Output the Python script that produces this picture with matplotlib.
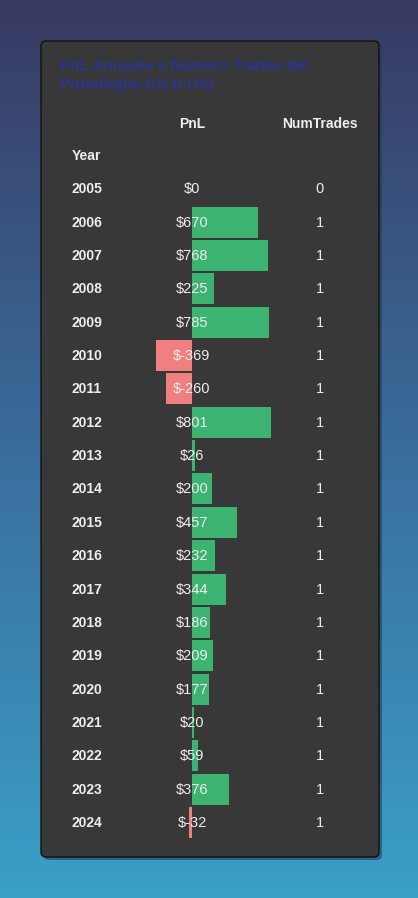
import numpy as np
import matplotlib
matplotlib.use("Agg")
import matplotlib.pyplot as plt
from matplotlib.patches import FancyBboxPatch
from matplotlib.colors import LinearSegmentedColormap

years = [2005, 2006, 2007, 2008, 2009, 2010, 2011, 2012, 2013, 2014,
         2015, 2016, 2017, 2018, 2019, 2020, 2021, 2022, 2023, 2024]
pnl = [0, 670, 768, 225, 785, -369, -260, 801, 26, 200,
       457, 232, 344, 186, 209, 177, 20, 59, 376, -32]
num_trades = [0, 1, 1, 1, 1, 1, 1, 1, 1, 1,
              1, 1, 1, 1, 1, 1, 1, 1, 1, 1]
title = "PnL Annuale e Numero Trades del\nPortafoglio (GLD.US)"
col_headers = ["PnL", "NumTrades"]
index_name = "Year"

W, H = 418, 898
plt.rcParams['font.family'] = ['Liberation Sans', 'DejaVu Sans']
fig = plt.figure(figsize=(W / 100, H / 100), dpi=100)

# background gradient
bg = fig.add_axes([0, 0, 1, 1])
bg.axis('off')
cmap = LinearSegmentedColormap.from_list('bg', ['#383a62', '#3a6d9c', '#3aa0c8'])
grad = np.linspace(0, 1, 256).reshape(-1, 1)
bg.imshow(grad, aspect='auto', cmap=cmap, extent=[0, 1, 0, 1], origin='upper')
bg.set_xlim(0, 1)
bg.set_ylim(0, 1)

def fx(px):
    return px / W

def fy(py):
    return 1 - py / H

# card shadow and card
shadow = FancyBboxPatch((fx(44), fy(860)), fx(379 - 41), (858 - 41) / H,
                        boxstyle="round,pad=0,rounding_size=0.012",
                        transform=bg.transAxes, facecolor='#1f3f55', edgecolor='none',
                        alpha=0.6, zorder=1, mutation_aspect=W / H)
bg.add_patch(shadow)
card = FancyBboxPatch((fx(41), fy(857)), fx(379 - 41), (857 - 41) / H,
                      boxstyle="round,pad=0,rounding_size=0.012",
                      transform=bg.transAxes, facecolor='#383838', edgecolor='#111111',
                      linewidth=1.0, zorder=2, mutation_aspect=W / H)
bg.add_patch(card)

fig.text(fx(60), fy(59), title, color='#2a3592', fontsize=11.1, fontweight='bold',
         va='top', ha='left', linespacing=1.42)

# table axes
zero_px = 192.0
scale = 0.0987  # px per dollar
left_px, right_px = 41, 379
row0_px, row_h = 188.0, 33.37
top_row, bot_row = -2.5, 19.5
ax = fig.add_axes([fx(left_px), fy(row0_px + bot_row * row_h),
                   (right_px - left_px) / W, (bot_row - top_row) * row_h / H])
ax.axis('off')
ax.set_xlim(-(zero_px - left_px) / scale, (right_px - zero_px) / scale)
ax.set_ylim(bot_row, top_row)

rows = np.arange(len(years))
colors = ['#3cb371' if v >= 0 else '#f08080' for v in pnl]
ax.barh(rows + 0.02, pnl, height=31 / row_h, color=colors, zorder=1)

txt = '#eeeeee'
dy = 0.035
xcol_year = (72 - left_px) / (right_px - left_px)
xcol_pnl = (192 - left_px) / (right_px - left_px)
xcol_nt = (320 - left_px) / (right_px - left_px)
trans = ax.get_yaxis_transform()
ax.text(xcol_pnl, -2 + 0.07, col_headers[0], transform=trans, ha='center', va='center',
        color=txt, fontsize=10, fontweight='bold')
ax.text(xcol_nt, -2 + 0.07, col_headers[1], transform=trans, ha='center', va='center',
        color=txt, fontsize=10, fontweight='bold')
ax.text(xcol_year, -1 + dy, index_name, transform=trans, ha='left', va='center',
        color=txt, fontsize=10, fontweight='bold')
for i, (y, v, n) in enumerate(zip(years, pnl, num_trades)):
    ax.text(xcol_year, i + dy, str(y), transform=trans, ha='left', va='center',
            color=txt, fontsize=10, fontweight='bold', zorder=3)
    ax.text(xcol_pnl, i + dy, f"${v}", transform=trans, ha='center', va='center',
            color=txt, fontsize=10.5, zorder=3)
    ax.text(xcol_nt, i + dy, str(n), transform=trans, ha='center', va='center',
            color=txt, fontsize=10.5, zorder=3)

fig.savefig('out.png', dpi=100)
